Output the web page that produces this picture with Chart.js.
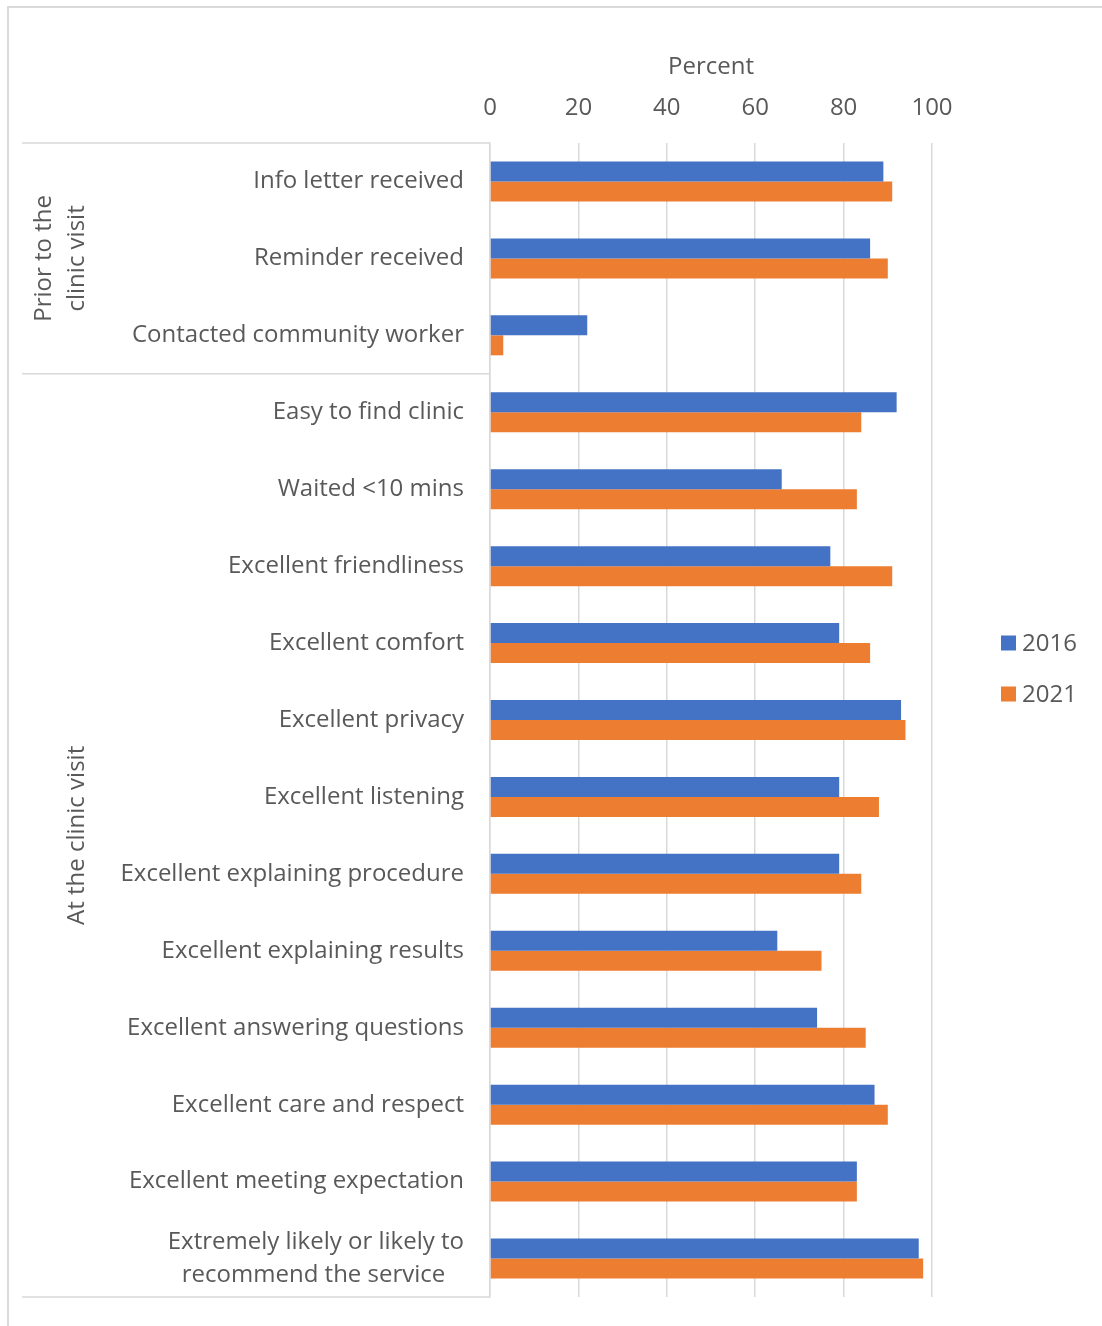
<!DOCTYPE html>
<html>
<head>
<meta charset="utf-8">
<script src="https://cdn.jsdelivr.net/npm/chart.js@4.4.1/dist/chart.umd.min.js"></script>
<style>
  html, body { margin: 0; padding: 0; background: #fff; overflow: hidden; }
  #wrap { position: relative; width: 1102px; height: 1326px; }
</style>
</head>
<body>
<div id="wrap"><canvas id="surveyChart"></canvas></div>
<script>
// Data
const categories = [
  'Info letter received',
  'Reminder received',
  'Contacted community worker',
  'Easy to find clinic',
  'Waited <10 mins',
  'Excellent friendliness',
  'Excellent comfort',
  'Excellent privacy',
  'Excellent listening',
  'Excellent explaining procedure',
  'Excellent explaining results',
  'Excellent answering questions',
  'Excellent care and respect',
  'Excellent meeting expectation',
  ['Extremely likely or likely to', 'recommend the service   ']
];
const values2016 = [89, 86, 22, 92, 66, 77, 79, 93, 79, 79, 65, 74, 87, 83, 97];
const values2021 = [91, 90, 3, 84, 83, 91, 86, 94, 88, 84, 75, 85, 90, 83, 98];
const seriesNames = ['2016', '2021'];
const xTicks = [0, 20, 40, 60, 80, 100];

// groups of categories (first index of each group) and their labels
const groupStarts = [0, 3];
const groupLabels = [['Prior to the', 'clinic visit'], ['At the clinic visit']];

document.addEventListener('DOMContentLoaded', function() {
  const blueColor = '#4472C4',
    orangeColor = '#ED7D31',
    textColor = '#595959',
    gridColor = '#d9d9d9',
    fontFamily = "'Open Sans', 'Noto Sans', sans-serif";

  // frame, group separators, group labels and legend
  const groupPlugin = {
    id: 'groupPlugin',
    beforeDraw(chart) {
      const ctx = chart.ctx;
      ctx.save();
      ctx.strokeStyle = gridColor;
      ctx.lineWidth = 2;
      ctx.beginPath();
      ctx.moveTo(8, chart.height);
      ctx.lineTo(8, 7);
      ctx.lineTo(chart.width, 7);
      ctx.stroke();
      ctx.restore();
    },
    afterDraw(chart) {
      const ctx = chart.ctx;
      const y = chart.scales.y;
      const area = chart.chartArea;

      const bounds = groupStarts.map(function(s) {
        return s === 0 ? area.top : (y.getPixelForValue(s - 1) + y.getPixelForValue(s)) / 2;
      });
      bounds.push(area.bottom);

      ctx.save();
      ctx.strokeStyle = gridColor;
      ctx.lineWidth = 1.5;
      bounds.forEach(function(b) {
        ctx.beginPath();
        ctx.moveTo(22, b);
        ctx.lineTo(area.left, b);
        ctx.stroke();
      });

      ctx.fillStyle = textColor;
      ctx.font = '24px ' + fontFamily;
      ctx.textAlign = 'center';
      ctx.textBaseline = 'middle';
      groupLabels.forEach(function(lines, i) {
        const cy = (bounds[i] + bounds[i + 1]) / 2;
        const lastX = 77;
        lines.forEach(function(line, j) {
          const cx = lastX - (lines.length - 1 - j) * 33;
          ctx.save();
          ctx.translate(cx, cy);
          ctx.rotate(-Math.PI / 2);
          ctx.fillText(line, 0, 0);
          ctx.restore();
        });
      });

      // legend
      ctx.textAlign = 'left';
      chart.data.datasets.forEach(function(ds, i) {
        const ly = 643 + i * 51;
        ctx.fillStyle = ds.backgroundColor;
        ctx.fillRect(1001, ly - 7.5, 15, 15);
        ctx.fillStyle = textColor;
        ctx.fillText(ds.label, 1022, ly + 1);
      });
      ctx.restore();
    }
  };

  const el = document.getElementById('surveyChart');
  new Chart(el, {
    type: 'bar',
    data: {
      labels: categories,
      datasets: [
        {
          label: seriesNames[0],
          data: values2016,
          backgroundColor: blueColor,
          categoryPercentage: 0.52,
          barPercentage: 1
        },
        {
          label: seriesNames[1],
          data: values2021,
          backgroundColor: orangeColor,
          categoryPercentage: 0.52,
          barPercentage: 1
        }
      ]
    },
    options: {
      indexAxis: 'y',
      responsive: true,
      maintainAspectRatio: false,
      animation: false,
      layout: {
        padding: { top: 0, left: 0, right: 170, bottom: 29 }
      },
      plugins: {
        legend: { display: false },
        tooltip: { enabled: false }
      },
      scales: {
        x: {
          position: 'top',
          min: 0,
          max: 100,
          afterBuildTicks: function(scale) {
            scale.ticks = xTicks.map(function(v) { return { value: v }; });
          },
          afterFit: function(scale) {
            scale.height = 143;
            scale.paddingLeft = 0;
            scale.paddingRight = 0;
          },
          grid: {
            color: gridColor,
            lineWidth: 1.5,
            drawTicks: false
          },
          border: { display: false },
          ticks: {
            color: textColor,
            padding: 20,
            font: { family: fontFamily, size: 24 }
          },
          title: {
            display: true,
            text: 'Percent',
            color: textColor,
            padding: { top: 53, bottom: 0 },
            font: { family: fontFamily, size: 24 }
          }
        },
        y: {
          afterFit: function(scale) {
            scale.width = 490;
            scale.paddingTop = 0;
            scale.paddingBottom = 0;
          },
          grid: { display: false, drawTicks: false },
          border: { display: true, color: gridColor, width: 1.5 },
          ticks: {
            color: textColor,
            padding: 26,
            autoSkip: false,
            font: { family: fontFamily, size: 24, lineHeight: 1.375 }
          }
        }
      }
    },
    plugins: [groupPlugin]
  });
});
</script>
</body>
</html>
